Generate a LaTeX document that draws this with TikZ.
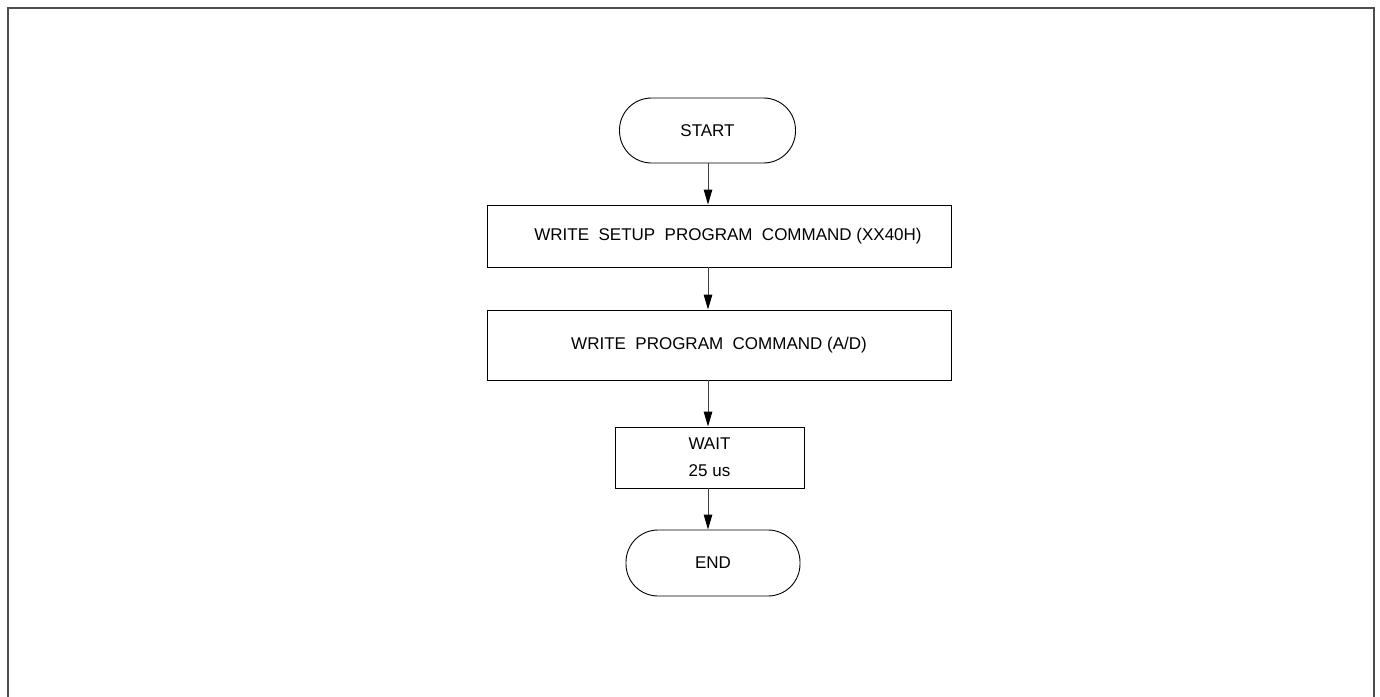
\documentclass[tikz,border=0pt]{standalone}
\usepackage{fontspec}
\setmainfont{Liberation Sans}
\usetikzlibrary{arrows.meta}
\begin{document}
\begin{tikzpicture}[x=1pt,y=-1pt,
  box/.style={draw=black,line width=0.9pt,inner sep=0pt,font=\fontsize{17}{27}\selectfont},
  term/.style={box,rounded corners=32pt},
  flow/.style={draw=black!75,line width=1pt,-{Triangle[length=15pt,width=8.5pt,color=black]}}]
\useasboundingbox (0,0) rectangle (1380,696);
\draw[line width=2pt,draw=black!70] (7.5,697) -- (7.5,7.5) -- (1373.5,7.5) -- (1373.5,697);
\coordinate (ax) at (708,0);
\node[term,minimum width=176pt,minimum height=65pt] (start) at (707.5,130.5) {START};
\node[box,minimum width=464pt,minimum height=62pt] (b1) at (719,236) {\hspace*{18pt}WRITE\ \ SETUP\ \ PROGRAM\ \ COMMAND (XX40H)};
\node[box,minimum width=464pt,minimum height=70pt] (b2) at (719,345) {WRITE\ \ PROGRAM\ \ COMMAND (A/D)};
\node[box,minimum width=189pt,minimum height=61pt,align=center] (b3) at (709.5,457.5) {WAIT\\25 us};
\node[term,minimum width=174pt,minimum height=66pt] (end) at (713,563) {END};
\draw[flow] (start.south -| ax) -- (b1.north -| ax);
\draw[flow] (b1.south -| ax) -- (b2.north -| ax);
\draw[flow] (b2.south -| ax) -- (b3.north -| ax);
\draw[flow] (b3.south -| ax) -- (end.north -| ax);
\end{tikzpicture}
\end{document}
